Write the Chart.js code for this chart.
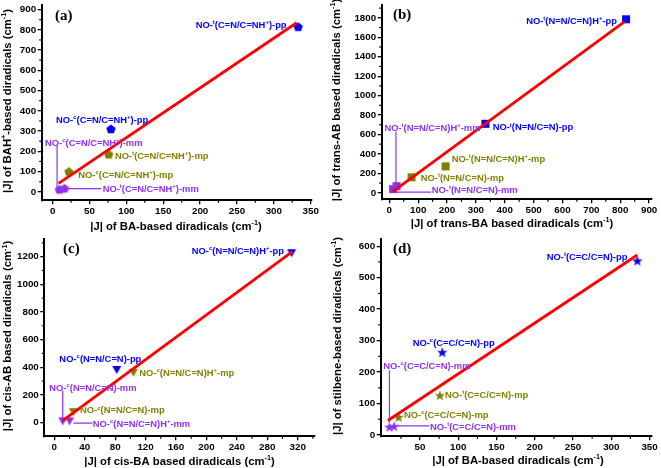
<!DOCTYPE html>
<html><head><meta charset="utf-8">
<script src="https://cdn.jsdelivr.net/npm/chart.js@4.4.1/dist/chart.umd.min.js"></script>
<style>
html,body{margin:0;padding:0;background:#fff;}
#wrap{position:relative;width:661px;height:468px;overflow:hidden;background:#fff;}
canvas{position:absolute;}
</style></head><body>
<div id="wrap">
<canvas id="pa" width="330" height="234" style="left:0px;top:0px"></canvas>
<canvas id="pb" width="331" height="234" style="left:330px;top:0px"></canvas>
<canvas id="pc" width="330" height="234" style="left:0px;top:234px"></canvas>
<canvas id="pd" width="331" height="234" style="left:330px;top:234px"></canvas>
</div>
<script>
// ---------------- DATA ----------------
// Panel (a): BA vs BAH+
const aPP = [{x:333,y:815},{x:79,y:310}];
const aMP = [{x:76,y:185},{x:22,y:100}];
const aMM = [{x:9,y:12},{x:16,y:17}];
const aFit = [{x:8,y:42},{x:331,y:835}];
const aLeadV = [{x:6,y:230},{x:6,y:22}];
const aLeadH = [{x:21,y:16},{x:66,y:16}];
const aXTicks = [0,50,100,150,200,250,300,350];
const aYTicks = [0,100,200,300,400,500,600,700,800,900];
const aLabelText = ['NO-^{t}(C=N/C=NH^{+})-pp','NO-^{c}(C=N/C=NH^{+})-pp','NO-^{c}(C=N/C=NH^{+})-mm','NO-^{t}(C=N/C=NH^{+})-mp','NO-^{c}(C=N/C=NH^{+})-mp','NO-^{t}(C=N/C=NH^{+})-mm'];
const aLabelGroup = ['pp','pp','mm','mp','mp','mm'];
const aLabelAt = [[194,827],[4.5,357],[-10.4,243],[84.5,178],[34.7,86],[67.8,16.5]];

// Panel (b): trans-BA vs trans-AB
const bPP = [{x:820,y:1785},{x:333,y:710}];
const bMP = [{x:195,y:272},{x:77,y:160}];
const bMM = [{x:25,y:68},{x:13,y:38}];
const bFit = [{x:12,y:12},{x:815,y:1760}];
const bLeadV = [{x:23,y:628},{x:23,y:70}];
const bLeadH = [{x:25,y:7},{x:145,y:7}];
const bXTicks = [0,100,200,300,400,500,600,700,800,900];
const bYTicks = [0,200,400,600,800,1000,1200,1400,1600,1800];
const bLabelText = ['NO-^{t}(N=N/C=N)H^{+}-pp','NO-^{t}(N=N/C=N)-pp','NO-^{t}(N=N/C=N)H^{+}-mm','NO-^{t}(N=N/C=N)H^{+}-mp','NO-^{t}(N=N/C=N)-mp','NO-^{t}(N=N/C=N)-mm'];
const bLabelGroup = ['pp','pp','mm','mp','mp','mm'];
const bLabelAt = [[474,1767],[358,676],[-17,668],[216,348],[109,156],[147,34]];

// Panel (c): cis-BA vs cis-AB
const cPP = [{x:312,y:1225},{x:82,y:380}];
const cMP = [{x:104,y:360},{x:25,y:75}];
const cMM = [{x:11,y:8},{x:20,y:8}];
const cFit = [{x:11,y:14},{x:313,y:1236}];
const cLeadV = [{x:11,y:232},{x:11,y:30}];
const cLeadH = [{x:25,y:-4},{x:50,y:-4}];
const cXTicks = [0,40,80,120,160,200,240,280,320];
const cYTicks = [0,200,400,600,800,1000,1200];
const cLabelText = ['NO-^{c}(N=N/C=N)H^{+}-pp','NO-^{c}(N=N/C=N)-pp','NO-^{c}(N=N/C=N)H^{+}-mp','NO-^{c}(N=N/C=N)-mm','NO-^{c}(N=N/C=N)-mp','NO-^{c}(N=N/C=N)H^{+}-mm'];
const cLabelGroup = ['pp','pp','mp','mm','mp','mm'];
const cLabelAt = [[180.7,1243],[6.6,463],[111.8,364],[-6.6,254],[33.8,90],[50.5,-7]];

// Panel (d): BA vs stilbene
const dPP = [{x:334,y:554},{x:79,y:263}];
const dMP = [{x:76,y:126},{x:22,y:57}];
const dMM = [{x:10,y:26},{x:16,y:28}];
const dFit = [{x:8,y:46},{x:334,y:572}];
const dLeadV = [{x:10,y:206},{x:10,y:40}];
const dLeadH = [{x:19,y:29},{x:62,y:29}];
const dXTicks = [50,100,150,200,250,300,350];
const dYTicks = [0,100,200,300,400,500,600];
const dLabelText = ['NO-^{t}(C=C/C=N)-pp','NO-^{c}(C=C/C=N)-pp','NO-^{c}(C=C/C=N)-mm','NO-^{t}(C=C/C=N)-mp','NO-^{c}(C=C/C=N)-mp','NO-^{t}(C=C/C=N)-mm'];
const dLabelGroup = ['pp','pp','mm','mp','mp','mm'];
const dLabelAt = [[215.6,566],[40.4,295],[2,222],[82.6,128],[29,66],[63,26]];

const xTitles = ['|J| of BA-based diradicals (cm^{-1})','|J| of trans-BA based diradicals (cm^{-1})','|J| of cis-BA based diradicals (cm^{-1})','|J| of BA-based diradicals (cm^{-1})'];
const yTitles = ['|J| of BAH^{+}-based diradicals (cm^{-1})','|J| of trans-AB based diradicals (cm^{-1})','|J| of cis-AB based diradicals (cm^{-1})','|J| of stilbene-based diradicals (cm^{-1})'];
const tags = ['(a)','(b)','(c)','(d)'];

// ---------------- STYLE ----------------
const FONT = '"Liberation Sans", Arial, sans-serif';
const SERIF = '"Liberation Serif", "Times New Roman", serif';
const COLORS = {pp:'#0000FF', mp:'#808000', mm:'#9030F0', fit:'#FF0000'};

function makeMarker(shape, color){
  const c = document.createElement('canvas');
  c.width = 12; c.height = 12;
  const g = c.getContext('2d');
  g.fillStyle = color;
  const cx = 6, cy = 6;
  g.beginPath();
  if (shape === 'pentagon'){
    const R = 4.9;
    for (let k=0;k<5;k++){
      const a = -Math.PI/2 + k*2*Math.PI/5;
      const px = cx + R*Math.cos(a), py = cy + 0.4 + R*Math.sin(a);
      k ? g.lineTo(px,py) : g.moveTo(px,py);
    }
  } else if (shape === 'square'){
    g.rect(cx-4, cy-4, 8, 8);
  } else if (shape === 'tri'){
    const s = 9, h = s*0.866;
    g.moveTo(cx - s/2, cy - h/2); g.lineTo(cx + s/2, cy - h/2); g.lineTo(cx, cy + h/2);
  } else if (shape === 'star'){
    const R = 5.5, r = 2.3;
    for (let k=0;k<10;k++){
      const a = -Math.PI/2 + k*Math.PI/5;
      const rr = k%2 ? r : R;
      const px = cx + rr*Math.cos(a), py = cy + 0.5 + rr*Math.sin(a);
      k ? g.lineTo(px,py) : g.moveTo(px,py);
    }
  }
  g.closePath(); g.fill();
  return c;
}

function parseRich(s){
  const out=[]; let buf=''; let i=0;
  while(i<s.length){
    if(s[i]==='^' && s[i+1]==='{'){
      if(buf){out.push({t:buf,sup:false});buf='';}
      const j=s.indexOf('}',i); out.push({t:s.slice(i+2,j),sup:true}); i=j+1;
    } else { buf+=s[i]; i++; }
  }
  if(buf) out.push({t:buf,sup:false});
  return out;
}
function drawRich(ctx, str, x, y, size, color, align){
  const segs = parseRich(str);
  const fN = 'bold '+size+'px '+FONT, fS = 'bold '+(size*0.64)+'px '+FONT;
  let w = 0;
  segs.forEach(s=>{ ctx.font = s.sup?fS:fN; s.w = ctx.measureText(s.t).width; w += s.w; });
  let cx = align==='center' ? x - w/2 : x;
  const base = y + 0.36*size;
  ctx.fillStyle = color; ctx.textAlign='left'; ctx.textBaseline='alphabetic';
  segs.forEach(s=>{ ctx.font = s.sup?fS:fN; ctx.fillText(s.t, cx, s.sup ? base - 0.42*size : base); cx += s.w; });
}

const PANELS = {
  pa:{i:0, area:{l:41.7,t:2,r:311.7,b:200.3}, xr:[-14.9,351.4], yr:[-41.8,922.6], xt:aXTicks, yt:aYTicks, shape:'pentagon',
      pp:aPP, mp:aMP, mm:aMM, fit:aFit, lead:[aLeadV,aLeadH], lt:aLabelText, lg:aLabelGroup, la:aLabelAt,
      ytPos:[6.7,101], xtPos:[176,225.5], tagPos:[55,16]},
  pb:{i:1, area:{l:51.7,t:2,r:321.7,b:199.3}, xr:[-26.3,909], yr:[-66.9,1932], xt:bXTicks, yt:bYTicks, shape:'square',
      pp:bPP, mp:bMP, mm:bMM, fit:bFit, lead:[bLeadV,bLeadH], lt:bLabelText, lg:bLabelGroup, la:bLabelAt,
      ytPos:[6,100], xtPos:[182,223], tagPos:[63,15]},
  pc:{i:2, area:{l:44.3,t:2,r:315,b:202.3}, xr:[-13.2,342.8], yr:[-99.8,1328], xt:cXTicks, yt:cYTicks, shape:'tri',
      pp:cPP, mp:cMP, mm:cMM, fit:cFit, lead:[cLeadV,cLeadH], lt:cLabelText, lg:cLabelGroup, la:cLabelAt,
      ytPos:[7.3,102], xtPos:[179.5,226.7], tagPos:[63,15]},
  pd:{i:3, area:{l:50.7,t:2,r:321.7,b:202.3}, xr:[-1.4,352.8], yr:[-4.1,622.8], xt:dXTicks, yt:dYTicks, shape:'star',
      pp:dPP, mp:dMP, mm:dMM, fit:dFit, lead:[dLeadV,dLeadH], lt:dLabelText, lg:dLabelGroup, la:dLabelAt,
      ytPos:[6.7,102], xtPos:[188,225.5], tagPos:[63,15]}
};

function minors(ticks, lo, hi){
  const step = ticks[1]-ticks[0], out=[];
  const first = ticks[0]-step/2;
  for(let v=first; v<=ticks[ticks.length-1]+step/2+1e-9; v+=step){ if(v>=lo && v<=hi) out.push(v); }
  return out;
}

const overlay = {
  id:'overlay',
  afterDraw(chart){
    const P = PANELS[chart.canvas.id];
    const ctx = chart.ctx, xs = chart.scales.x, ys = chart.scales.y;
    ctx.save();
    ctx.strokeStyle='#000'; ctx.lineWidth=1.2;
    minors(P.xt, P.xr[0], P.xr[1]).forEach(v=>{ const px=xs.getPixelForValue(v); ctx.beginPath(); ctx.moveTo(px, xs.top); ctx.lineTo(px, xs.top+2.5); ctx.stroke(); });
    minors(P.yt, P.yr[0], P.yr[1]).forEach(v=>{ const py=ys.getPixelForValue(v); ctx.beginPath(); ctx.moveTo(ys.right, py); ctx.lineTo(ys.right-2.5, py); ctx.stroke(); });
    P.lt.forEach((t,k)=>{
      drawRich(ctx, t, xs.getPixelForValue(P.la[k][0]), ys.getPixelForValue(P.la[k][1]), 9.4, COLORS[P.lg[k]], 'left');
    });
    drawRich(ctx, xTitles[P.i], P.xtPos[0], P.xtPos[1], 11.3, '#000', 'center');
    ctx.save(); ctx.translate(P.ytPos[0], P.ytPos[1]); ctx.rotate(-Math.PI/2);
    drawRich(ctx, yTitles[P.i], 0, 0, 11.3, '#000', 'center');
    ctx.restore();
    ctx.font = 'bold 15px '+SERIF; ctx.fillStyle='#000'; ctx.textAlign='left'; ctx.textBaseline='middle';
    ctx.fillText(tags[P.i], P.tagPos[0], P.tagPos[1]);
    ctx.restore();
  }
};

function build(id){
  const P = PANELS[id];
  const el = document.getElementById(id);
  const W = el.width, H = el.height, A = P.area;
  const tickFont = {family:FONT, size:9.8, weight:'bold'};
  const mk = c => makeMarker(P.shape, c);
  new Chart(el, {
    type:'scatter',
    data:{datasets:[
      {data:P.fit, showLine:true, borderColor:COLORS.fit, borderWidth:2.8, pointRadius:0, fill:false},
      {data:P.lead[0], showLine:true, borderColor:COLORS.mm, borderWidth:1.2, pointRadius:0, fill:false},
      {data:P.lead[1], showLine:true, borderColor:COLORS.mm, borderWidth:1.2, pointRadius:0, fill:false},
      {data:P.pp, pointStyle:mk(COLORS.pp), pointRadius:4, showLine:false},
      {data:P.mp, pointStyle:mk(COLORS.mp), pointRadius:4, showLine:false},
      {data:P.mm, pointStyle:mk(COLORS.mm), pointRadius:4, showLine:false}
    ]},
    options:{
      responsive:false, animation:false, devicePixelRatio:1,
      layout:{padding:{left:0, top:A.t, right:W-A.r, bottom:0}},
      plugins:{legend:{display:false}, tooltip:{enabled:false}},
      scales:{
        x:{type:'linear', position:'bottom', min:P.xr[0], max:P.xr[1],
           afterBuildTicks:s=>{ s.ticks = P.xt.map(v=>({value:v})); },
           afterFit:s=>{ s.height = H - A.b; s.paddingLeft=0; s.paddingRight=0; },
           grid:{display:true, drawOnChartArea:false, drawTicks:true, tickLength:4, color:'#000', lineWidth:1.3},
           border:{display:true, color:'#000', width:2},
           ticks:{font:tickFont, color:'#000', padding:1, maxRotation:0, autoSkip:false, callback:v=>String(v)}},
        y:{type:'linear', position:'left', min:P.yr[0], max:P.yr[1],
           afterBuildTicks:s=>{ s.ticks = P.yt.map(v=>({value:v})); },
           afterFit:s=>{ s.width = A.l; s.paddingTop=0; s.paddingBottom=0; },
           grid:{display:true, drawOnChartArea:false, drawTicks:true, tickLength:4, color:'#000', lineWidth:1.3},
           border:{display:true, color:'#000', width:2},
           ticks:{font:tickFont, color:'#000', padding:1.5, autoSkip:false, callback:v=>String(v)}}
      }
    },
    plugins:[overlay]
  });
}
['pa','pb','pc','pd'].forEach(build);
</script>
</body></html>
